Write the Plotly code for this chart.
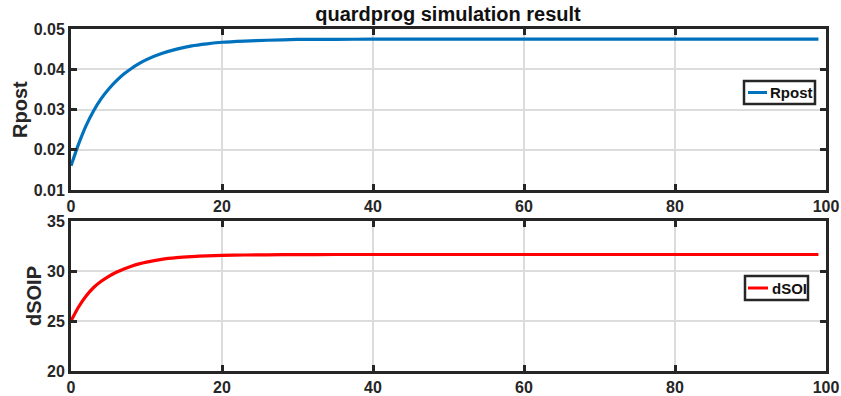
import plotly.graph_objects as go
from plotly.subplots import make_subplots

# Data
t = [0, 1, 2, 3, 4, 5, 6, 7, 8, 9, 10, 12, 14, 16, 18, 20, 23, 26, 30, 35, 40, 50, 60, 70, 80, 90, 99]
rpost = [0.0160, 0.0214, 0.0260, 0.0297, 0.0327, 0.0351, 0.0371, 0.0388, 0.0402, 0.0414,
         0.0424, 0.0439, 0.0450, 0.0458, 0.0463, 0.0467, 0.0470, 0.0472, 0.0474, 0.0474,
         0.0475, 0.0475, 0.0475, 0.0475, 0.0475, 0.0475, 0.0475]
dsoip = [25.00, 26.40, 27.50, 28.35, 28.97, 29.47, 29.88, 30.21, 30.48, 30.71,
         30.89, 31.16, 31.33, 31.44, 31.52, 31.56, 31.60, 31.62, 31.64, 31.65,
         31.65, 31.65, 31.65, 31.65, 31.65, 31.65, 31.65]

title_text = "quardprog simulation result"
x_ticks = [0, 20, 40, 60, 80, 100]
y1_ticks = [0.01, 0.02, 0.03, 0.04, 0.05]
y2_ticks = [20, 25, 30, 35]
y_titles = ["Rpost", "dSOIP"]
series_names = ["Rpost", "dSOI"]
series_colors = ["#0072BD", "#FF0000"]

FONT = "Arial, 'Liberation Sans', sans-serif"
AX = "#262626"
GRID = "#dcdcdc"

# plot area geometry (pixels) -> paper helpers
W, H = 841, 396
L, R, T, B = 71, 15, 29, 25
PW, PH = W - L - R, H - T - B


def px(xp):
    return (xp - L) / PW


def py(yp):
    return (H - B - yp) / PH


fig = make_subplots(rows=2, cols=1)

fig.add_trace(go.Scatter(x=t, y=rpost, mode="lines", name=series_names[0],
                         line=dict(color=series_colors[0], width=3.2, shape="spline", smoothing=0.6),
                         showlegend=False), row=1, col=1)
fig.add_trace(go.Scatter(x=t, y=dsoip, mode="lines", name=series_names[1],
                         line=dict(color=series_colors[1], width=3.2, shape="spline", smoothing=0.6),
                         showlegend=False), row=2, col=1)

axis_common = dict(
    showline=True, linecolor=AX, linewidth=3, mirror="ticks",
    ticks="inside", ticklen=6, tickwidth=3, tickcolor=AX,
    showgrid=True, gridcolor=GRID, gridwidth=2,
    zeroline=False, automargin=False,
    tickfont=dict(family=FONT, size=16, color=AX, weight="bold"),
)

fig.update_xaxes(**axis_common, range=[0, 100], tickvals=x_ticks)
fig.update_yaxes(**axis_common)

fig.update_layout(
    yaxis=dict(domain=[1 - 161 / PH, 1.0], range=[0.01, 0.05], tickvals=y1_ticks,
               tickformat=".2f"),
    yaxis2=dict(domain=[0.0, 150 / PH], range=[20, 35], tickvals=y2_ticks),
    xaxis=dict(anchor="y"),
    xaxis2=dict(anchor="y2"),
    width=W, height=H,
    margin=dict(l=L, r=R, t=T, b=B),
    paper_bgcolor="white", plot_bgcolor="white",
    title=dict(text=title_text, x=448 / W, xanchor="center", y=1 - 14 / H, yanchor="middle",
               font=dict(family=FONT, size=20, color="#111111", weight="bold")),
    showlegend=False,
)

# Y-axis titles (rotated text placed beside the tick labels)
for text, (cx, cy) in zip(y_titles, [(19.5, 109.5), (34, 296)]):
    fig.add_annotation(text=text, xref="paper", yref="paper",
                       x=px(cx), y=py(cy), xanchor="center", yanchor="middle",
                       textangle=-90, showarrow=False,
                       font=dict(family=FONT, size=20, color=AX, weight="bold"))

# Custom MATLAB-style legend boxes
legend_boxes = [
    dict(box=(744, 815, 81, 104), line=(748, 767, 92.5), text_x=768),
    dict(box=(745, 808, 276, 300), line=(748, 768, 288), text_x=770),
]
for name, color, lb in zip(series_names, series_colors, legend_boxes):
    x0, x1, y0, y1 = lb["box"]
    fig.add_shape(type="rect", xref="paper", yref="paper",
                  x0=px(x0), x1=px(x1), y0=py(y1), y1=py(y0),
                  line=dict(color=AX, width=2.5), fillcolor="white", layer="above")
    lx0, lx1, ly = lb["line"]
    fig.add_shape(type="line", xref="paper", yref="paper",
                  x0=px(lx0), x1=px(lx1), y0=py(ly), y1=py(ly),
                  line=dict(color=color, width=3), layer="above")
    fig.add_annotation(text=name, xref="paper", yref="paper",
                       x=px(lb["text_x"]), y=py(ly), xanchor="left", yanchor="middle",
                       showarrow=False,
                       font=dict(family=FONT, size=15, color="#111111", weight="bold"))

fig.write_html("out.html")
